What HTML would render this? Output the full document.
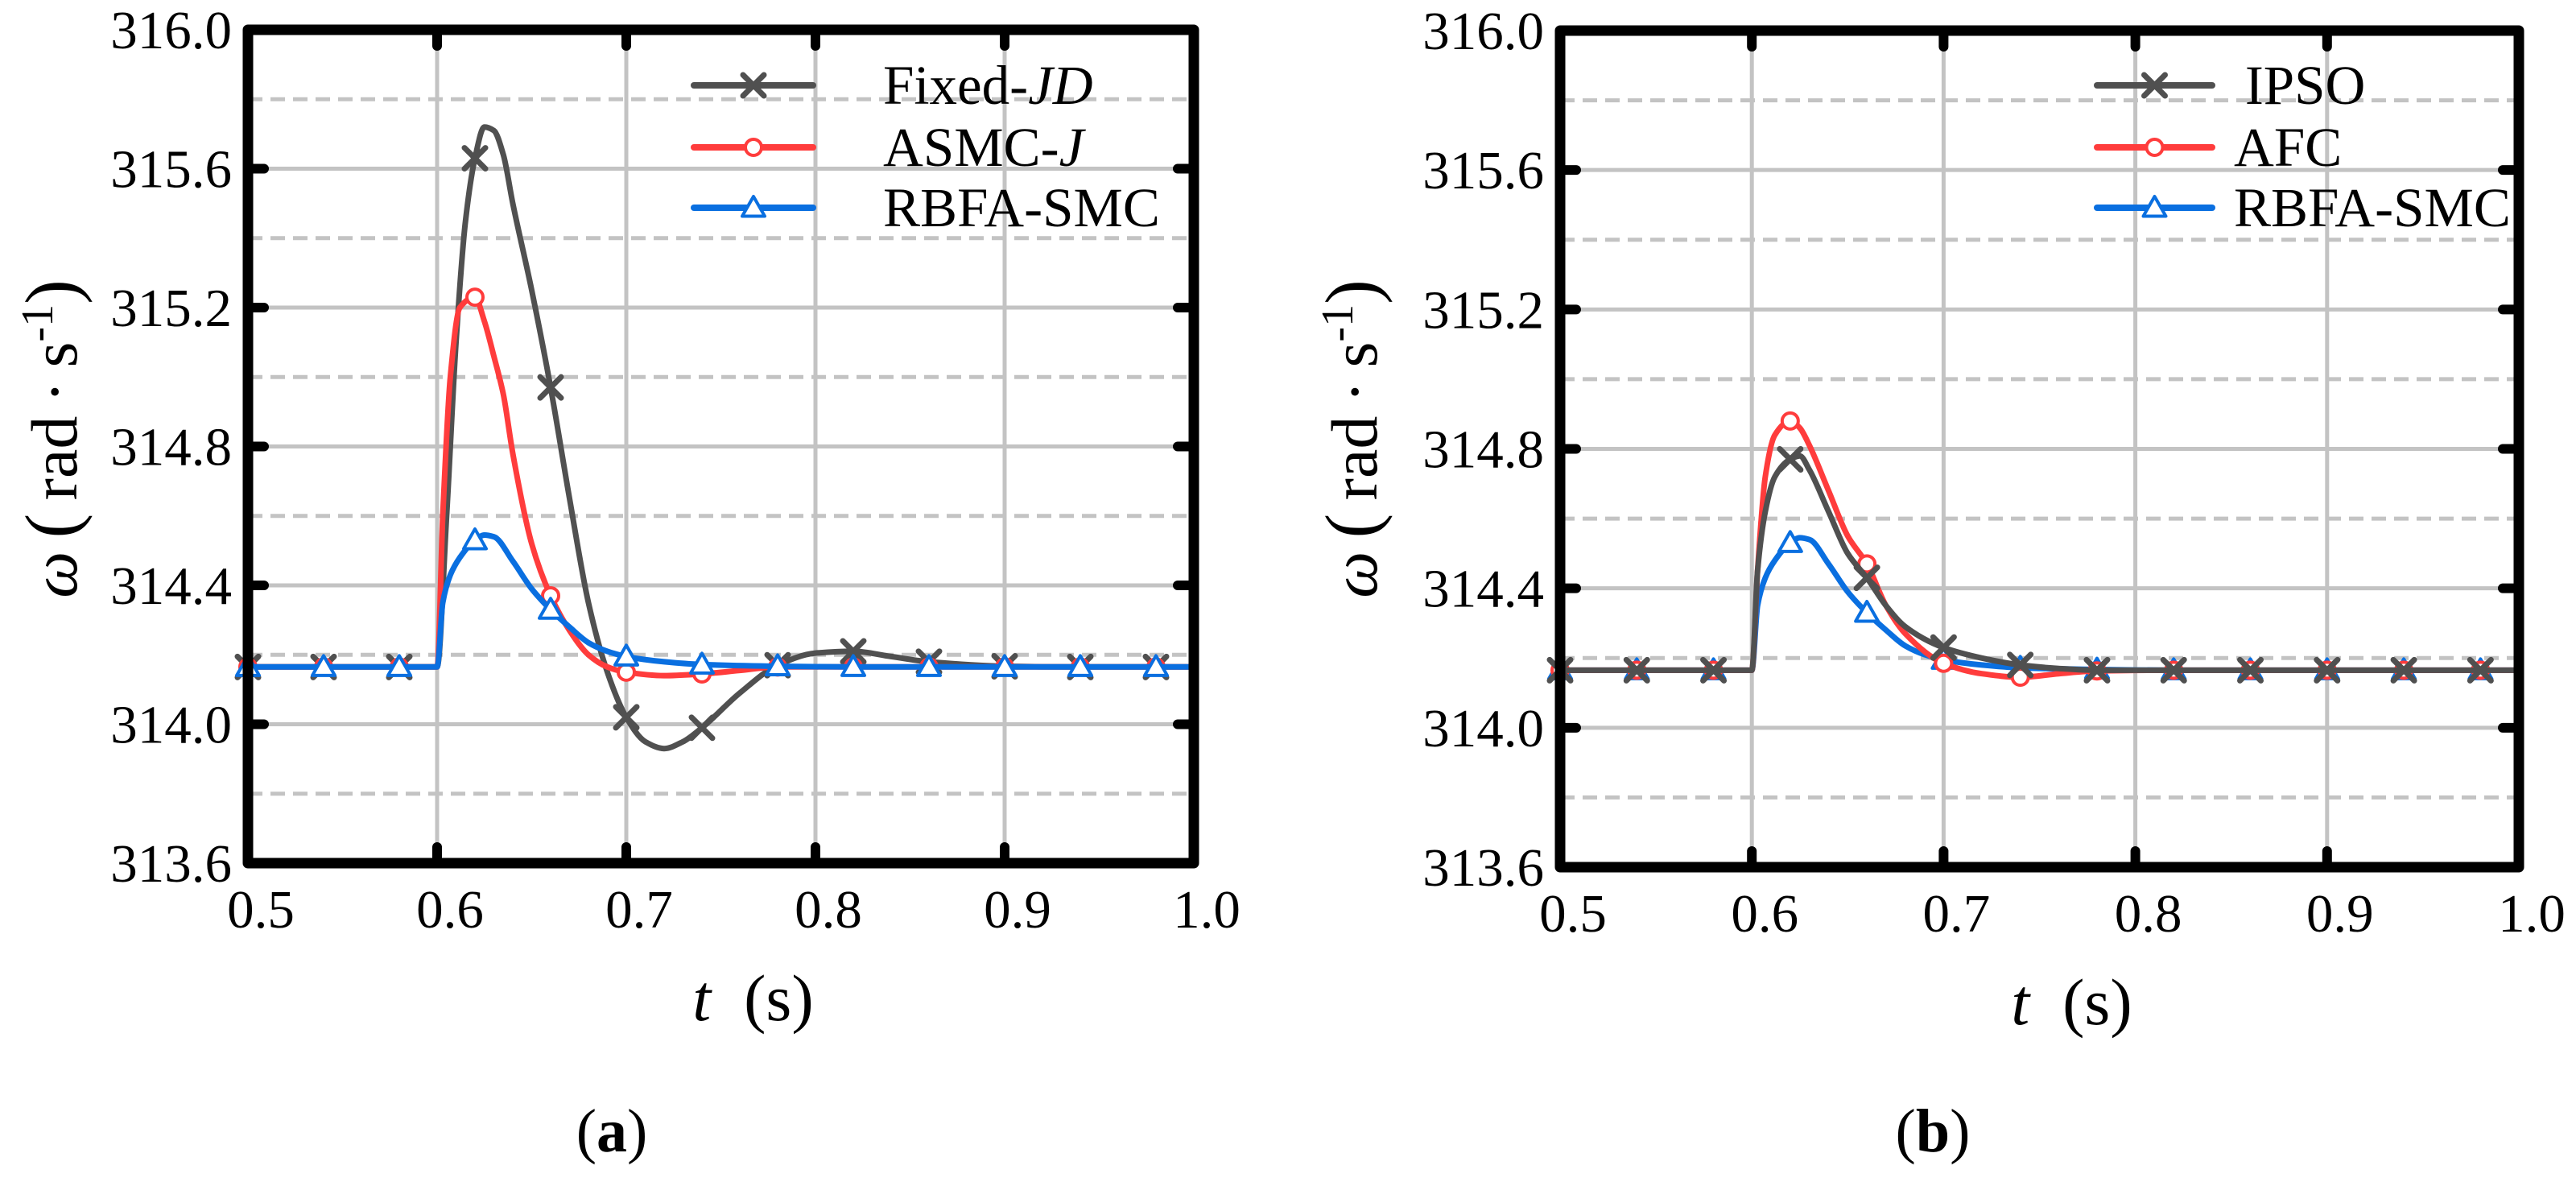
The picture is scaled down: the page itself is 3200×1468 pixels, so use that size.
<!DOCTYPE html>
<html><head><meta charset="utf-8">
<style>
html,body{margin:0;padding:0;background:#fff;}
svg{display:block;}
svg text{font-family:"Liberation Serif","Times New Roman",serif;}
</style></head>
<body>
<svg id="fig" width="3200" height="1468" viewBox="0 0 3200 1468" xmlns="http://www.w3.org/2000/svg" font-family="Liberation Serif, serif"></svg>
<script>
// ---------- data ----------
const markerT = [0.50,0.54,0.58,0.62,0.66,0.70,0.74,0.78,0.82,0.86,0.90,0.94,0.98];
const yTicksMajor = [313.6,314.0,314.4,314.8,315.2,315.6,316.0];
const yTicksMinor = [313.8,314.2,314.6,315.0,315.4,315.8];
const xTicks = [0.5,0.6,0.7,0.8,0.9,1.0];
const yTickLabels = ["313.6","314.0","314.4","314.8","315.2","315.6","316.0"];
const xTickLabels = ["0.5","0.6","0.7","0.8","0.9","1.0"];

const fixedT = [0.50,0.54,0.58,0.60,0.605,0.61,0.615,0.62,0.625,0.63,0.635,0.64,0.65,0.66,0.67,0.68,0.69,0.70,0.71,0.72,0.73,0.74,0.76,0.78,0.80,0.82,0.84,0.86,0.90,0.94,0.98,1.0];
const fixedY = [314.165,314.165,314.165,314.165,314.6,315.1,315.45,315.63,315.72,315.71,315.64,315.5,315.25,314.97,314.65,314.35,314.15,314.02,313.95,313.93,313.95,313.99,314.09,314.17,314.205,314.21,314.195,314.18,314.167,314.165,314.165,314.165];

const asmcT = [0.50,0.54,0.58,0.60,0.603,0.607,0.612,0.62,0.625,0.63,0.635,0.64,0.65,0.66,0.67,0.68,0.69,0.70,0.72,0.74,0.76,0.78,0.82,0.86,0.90,0.94,0.98,1.0];
const asmcY = [314.165,314.165,314.165,314.165,314.6,315.0,315.2,315.23,315.16,315.06,314.95,314.78,314.52,314.37,314.27,314.2,314.165,314.15,314.14,314.145,314.155,314.165,314.165,314.165,314.165,314.165,314.165,314.165];

const rbfaT = [0.50,0.54,0.58,0.60,0.603,0.607,0.612,0.62,0.625,0.63,0.64,0.65,0.66,0.67,0.68,0.69,0.70,0.72,0.74,0.78,0.82,0.86,0.90,0.94,0.98,1.0];
const rbfaY = [314.165,314.165,314.165,314.165,314.35,314.43,314.48,314.53,314.545,314.54,314.47,314.39,314.33,314.28,314.235,314.21,314.195,314.18,314.172,314.167,314.165,314.165,314.165,314.165,314.165,314.165];

const ipsoT = [0.50,0.54,0.58,0.60,0.603,0.607,0.612,0.62,0.625,0.63,0.64,0.65,0.66,0.67,0.68,0.70,0.72,0.74,0.76,0.78,0.82,0.86,0.90,0.94,0.98,1.0];
const ipsoY = [314.165,314.165,314.165,314.165,314.45,314.62,314.72,314.77,314.78,314.74,314.62,314.5,314.43,314.35,314.29,314.23,314.2,314.18,314.17,314.165,314.165,314.165,314.165,314.165,314.165,314.165];

const afcT = [0.50,0.54,0.58,0.60,0.603,0.607,0.612,0.62,0.625,0.63,0.64,0.65,0.66,0.67,0.68,0.70,0.72,0.74,0.76,0.78,0.82,0.86,0.90,0.94,0.98,1.0];
const afcY = [314.165,314.165,314.165,314.165,314.45,314.72,314.84,314.88,314.86,314.81,314.68,314.55,314.47,314.35,314.27,314.185,314.155,314.145,314.155,314.163,314.165,314.165,314.165,314.165,314.165,314.165];

// ---------- drawing ----------
const NS = "http://www.w3.org/2000/svg";
const FONT = '"Liberation Serif", serif';
const svg = document.getElementById('fig');
function mk(tag, attrs, parent){
  const e = document.createElementNS(NS, tag);
  for (const k in attrs) e.setAttribute(k, attrs[k]);
  if (tag==='text') e.setAttribute('font-family', FONT);
  (parent||svg).appendChild(e);
  return e;
}
const GRAY="#505050", RED="#ff3c3c", BLUE="#0a6fe0", GRID="#c3c3c3";

// monotone cubic path (Fritsch-Carlson) through pixel points
function smoothPath(xs, ys){
  const n = xs.length;
  const d = [], m = new Array(n);
  for (let i=0;i<n-1;i++) d.push((ys[i+1]-ys[i])/(xs[i+1]-xs[i]));
  m[0]=d[0]; m[n-1]=d[n-2];
  for (let i=1;i<n-1;i++){
    if (d[i-1]*d[i]<=0) m[i]=0;
    else { const w1=2*(xs[i+1]-xs[i])+(xs[i]-xs[i-1]), w2=(xs[i+1]-xs[i])+2*(xs[i]-xs[i-1]); m[i]=(w1+w2)/(w1/d[i-1]+w2/d[i]); }
  }
  let p = `M${xs[0].toFixed(1)},${ys[0].toFixed(1)}`;
  for (let i=0;i<n-1;i++){
    const h = xs[i+1]-xs[i];
    p += `C${(xs[i]+h/3).toFixed(1)},${(ys[i]+m[i]*h/3).toFixed(1)} ${(xs[i+1]-h/3).toFixed(1)},${(ys[i+1]-m[i+1]*h/3).toFixed(1)} ${xs[i+1].toFixed(1)},${ys[i+1].toFixed(1)}`;
  }
  return p;
}

function drawPanel(p){
  const g = mk('g', {});
  
  
  const X = t => p.x0 + (t-0.5)/0.5*(p.x1-p.x0);
  const Y = v => p.y1 - (v-313.6)/2.4*(p.y1-p.y0);
  yTicksMinor.forEach(v=>{
    const l = mk('line',{x1:p.x0,x2:p.x1,y1:Y(v),y2:Y(v),stroke:GRID,'stroke-width':5,'stroke-dasharray':'18 10'},g);
    
    
  });
  yTicksMajor.forEach(v=>{
    const l = mk('line',{x1:p.x0,x2:p.x1,y1:Y(v),y2:Y(v),stroke:GRID,'stroke-width':5},g);
    
    
  });
  xTicks.forEach(t=>{
    const l = mk('line',{x1:X(t),x2:X(t),y1:p.y0,y2:p.y1,stroke:GRID,'stroke-width':5},g);
    
    
  });
  p.series.forEach(s=>{
    const sg = mk('g',{},g);
    
    
    const pth = mk('path',{d:smoothPath(s.t.map(X), s.y.map(Y)),fill:'none',stroke:s.color,'stroke-width':7,'stroke-linejoin':'round','stroke-linecap':'round'},sg);
    
    
    s.t.forEach((t,i)=>{
      if (!markerT.some(m=>Math.abs(m-t)<1e-6)) return;
      const m = drawMarker(s.marker, X(t), Y(s.y[i]), s.color, sg);
      
      
    });
  });
  const fr = mk('rect',{x:p.x0,y:p.y0,width:p.x1-p.x0,height:p.y1-p.y0,fill:'none',stroke:'#000','stroke-width':13,'stroke-linejoin':'round'},g);
  
  
  yTicksMajor.forEach(v=>{
    if (v===313.6 || v===316.0) return;
    [[p.x0,p.x0+20],[p.x1,p.x1-20]].forEach(([a,b])=>{
      const l = mk('line',{x1:a,x2:b,y1:Y(v),y2:Y(v),stroke:'#000','stroke-width':12,'stroke-linecap':'round'},g);
      
      
    });
  });
  xTicks.forEach(t=>{
    if (t===0.5 || t===1.0) return;
    [[p.y0,p.y0+20],[p.y1,p.y1-20]].forEach(([a,b])=>{
      const l = mk('line',{x1:X(t),x2:X(t),y1:a,y2:b,stroke:'#000','stroke-width':12,'stroke-linecap':'round'},g);
      
      
    });
  });
  yTicksMajor.forEach((v,i)=>{
    const tx = mk('text',{x:p.x0-20,y:Y(v)+23,'text-anchor':'end','font-size':67},g);
    tx.textContent = yTickLabels[i];
    
    
  });
  xTicks.forEach((t,i)=>{
    const tx = mk('text',{x:X(t)+16,y:p.y1+80,'text-anchor':'middle','font-size':67},g);
    tx.textContent = xTickLabels[i];
    
    
  });
  const xt = mk('text',{x:(p.x0+p.x1)/2+40,y:p.y1+195,'text-anchor':'middle','font-size':82},g);
  xt.innerHTML = '<tspan font-style="italic">t</tspan>\u2002(s)';
  
  
  const yt = mk('text',{x:0,y:0,'text-anchor':'middle','font-size':82,transform:`translate(${p.ytx},545) rotate(-90)`},g);
  yt.innerHTML = '<tspan font-style="italic">\u03c9</tspan>\u2009<tspan font-size="92">(</tspan>\u2009rad\u2009\u00b7\u2009s<tspan dy="-30" font-size="56">-1</tspan><tspan dy="30" font-size="92">)</tspan>';
  
  
  p.series.slice().sort((a,b)=>a.li-b.li).forEach((s,i)=>{
    const ly = p.legY[i];
    const lg = mk('g',{},g);
    
    
    mk('line',{x1:p.legX0,x2:p.legX1,y1:ly,y2:ly,stroke:s.color,'stroke-width':8,'stroke-linecap':'round'},lg);
    drawMarker(s.marker,(p.legX0+p.legX1)/2,ly,s.color,lg);
    const tx = mk('text',{x:p.legTx,y:ly+23,'font-size':69},lg);
    tx.innerHTML = s.label;
  });
  const pl = mk('text',{x:p.labX,y:1430,'text-anchor':'middle','font-size':76},g);
  pl.innerHTML = '(<tspan font-weight="bold">'+p.lab+'</tspan>)';
  
  
}
function drawMarker(type,x,y,color,parent){
  if (type==='x'){
    const d=13;
    return mk('path',{d:`M${x-d},${y-d}L${x+d},${y+d}M${x-d},${y+d}L${x+d},${y-d}`,stroke:color,'stroke-width':7,fill:'none','stroke-linecap':'round'},parent);
  } else if (type==='o'){
    return mk('circle',{cx:x,cy:y,r:10,fill:'#fff',stroke:color,'stroke-width':4},parent);
  } else {
    const s=14;
    return mk('path',{d:`M${x},${y-s}L${x+s},${y+s*0.75}L${x-s},${y+s*0.75}Z`,fill:'#fff',stroke:color,'stroke-width':4,'stroke-linejoin':'round'},parent);
  }
}

drawPanel({name:'panel-a', x0:308,x1:1483,y0:37,y1:1072, ytx:95, lab:'a', labX:760,
  legX0:862,legX1:1010,legTx:1097,legY:[106,183,258],
  series:[
    {name:'fixed-jd',label:'Fixed-<tspan font-style="italic">JD</tspan>',t:fixedT,y:fixedY,color:GRAY,marker:'x',li:0},
    {name:'asmc-j',label:'ASMC-<tspan font-style="italic">J</tspan>',t:asmcT,y:asmcY,color:RED,marker:'o',li:1},
    {name:'rbfa-smc',label:'RBFA-SMC',t:rbfaT,y:rbfaY,color:BLUE,marker:'t',li:2}
  ]});
drawPanel({name:'panel-b', x0:1938,x1:3129,y0:38,y1:1077, ytx:1710, lab:'b', labX:2401,
  legX0:2605,legX1:2748,legTx:2775,legY:[106,183,258],
  series:[
    {name:'rbfa-smc',label:'RBFA-SMC',t:rbfaT,y:rbfaY,color:BLUE,marker:'t',li:2},
    {name:'afc',label:'AFC',t:afcT,y:afcY,color:RED,marker:'o',li:1},
    {name:'ipso',label:'\u2009IPSO',t:ipsoT,y:ipsoY,color:GRAY,marker:'x',li:0}
  ]});
</script>
</body></html>
